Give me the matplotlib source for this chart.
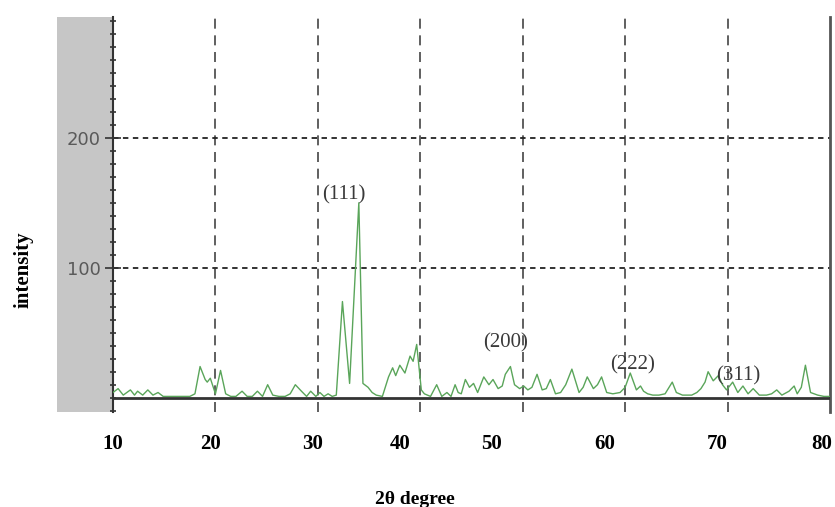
"""XRD pattern: intensity vs 2-theta with (hkl) peak labels."""

import matplotlib
matplotlib.use("Agg")
import matplotlib.pyplot as plt
import matplotlib.patches as mpatches
from matplotlib.ticker import MultipleLocator, FixedLocator

# --- data ---
two_theta = [10.0, 10.5, 11.0, 11.7, 12.1, 12.4, 12.9, 13.4, 13.9, 14.4,
             14.9, 15.5, 16.5, 17.5, 18.0, 18.5, 19.0, 19.2, 19.5, 20.0,
             20.5, 21.0, 21.5, 22.0, 22.6, 23.1, 23.6, 24.1, 24.6, 25.1,
             25.6, 26.2, 26.8, 27.3, 27.8, 28.4, 28.9, 29.3, 29.8, 30.2,
             30.6, 31.0, 31.4, 31.8, 32.4, 33.1, 34.0, 34.4, 34.9, 35.3,
             35.7, 36.3, 36.9, 37.3, 37.6, 38.0, 38.5, 39.0, 39.3, 39.65,
             39.9, 40.1, 40.4, 41.0, 41.6, 42.1, 42.6, 43.0, 43.4, 43.7,
             44.0, 44.4, 44.8, 45.2, 45.6, 46.2, 46.7, 47.1, 47.6, 48.0,
             48.3, 48.8, 49.2, 49.7, 50.1, 50.5, 50.9, 51.4, 51.9, 52.3,
             52.7, 53.2, 53.7, 54.2, 54.8, 55.5, 55.9, 56.3, 56.9, 57.3,
             57.7, 58.2, 58.8, 59.5, 60.0, 60.5, 61.1, 61.5, 61.8, 62.2,
             62.7, 63.3, 63.9, 64.6, 65.0, 65.6, 66.5, 67.0, 67.4, 67.8,
             68.1, 68.6, 69.1, 69.5, 69.9, 70.5, 71.0, 71.5, 72.0, 72.5,
             73.1, 73.8, 74.3, 74.8, 75.3, 76.0, 76.5, 76.8, 77.2, 77.6,
             78.1, 78.8, 79.4, 80.0]
intensity = [4, 7, 2, 6, 2, 5, 2, 6, 2, 4,
             1, 1, 1, 1, 3, 24, 14, 12, 15, 3,
             21, 3, 1, 1, 5, 1, 1, 5, 1, 10,
             2, 1, 1, 3, 10, 5, 1, 5, 1, 4,
             1, 3, 1, 2, 74, 11, 150, 11, 8, 4,
             2, 1, 16, 23, 17, 25, 19, 32, 28, 41,
             22, 6, 3, 1, 10, 1, 4, 1, 10, 4,
             3, 14, 8, 11, 4, 16, 10, 14, 7, 9,
             18, 24, 10, 7, 9, 6, 8, 18, 6, 7,
             14, 3, 4, 10, 22, 4, 8, 16, 7, 10,
             16, 4, 3, 4, 8, 19, 6, 9, 5, 3,
             2, 2, 3, 12, 4, 2, 2, 4, 7, 12,
             20, 13, 17, 10, 6, 12, 4, 9, 3, 7,
             2, 2, 3, 6, 2, 5, 9, 3, 8, 25,
             4, 2, 1, 1]

peak_labels = ["(111)", "(200)", "(222)", "(311)"]
peak_label_x = [32.5, 48.3, 60.7, 71.0]
peak_label_y = [156, 42, 25, 17]

x_tick_labels = ["10", "20", "30", "40", "50", "60", "70", "80"]
# labels in the source sit a little off the grid lines
x_tick_label_pos = [10.0, 19.5, 29.5, 38.0, 47.0, 58.0, 69.0, 79.2]
x_grid = [20, 30, 40, 50, 60, 70]
y_ticks = [100, 200]

fig = plt.figure(figsize=(8.35, 5.07), dpi=100)
ax = fig.add_axes([113 / 835, 95 / 507, 717 / 835, 395 / 507])

# grey strip behind the y tick labels
fig.patches.append(mpatches.Rectangle((57 / 835, 95 / 507), 56 / 835, 395 / 507,
                                      transform=fig.transFigure,
                                      facecolor="#c6c6c6", edgecolor="none",
                                      zorder=-1))

ax.plot(two_theta, intensity, color="#5aa55a", lw=1.0, zorder=3)
ax.axhline(0, color="#333333", lw=2.0, zorder=4)

ax.set_xlim(10, 80)
ax.set_ylim(-11, 293)

# grid
for gx in x_grid:
    ax.axvline(gx, color="#444444", lw=1.2, ls=(0, (6, 4)), zorder=1)
for gy in y_ticks:
    ax.axhline(gy, color="#222222", lw=1.3, ls=(0, (3, 2.5)), zorder=1)

# x tick labels
ax.xaxis.set_major_locator(FixedLocator(x_tick_label_pos))
ax.set_xticklabels(x_tick_labels, fontfamily="Liberation Serif",
                   fontweight="bold", fontsize=15)
ax.tick_params(axis="x", length=0, pad=16)

# y ticks
ax.set_yticks(y_ticks)
ax.set_yticklabels([str(v) for v in y_ticks],
                   fontfamily=["Liberation Sans Narrow", "DejaVu Sans"],
                   fontsize=13, color="#5a5a5a")
ax.yaxis.set_minor_locator(MultipleLocator(10))
ax.tick_params(axis="y", which="major", direction="inout", length=12,
               width=1.2, color="#333333", pad=3)
ax.tick_params(axis="y", which="minor", direction="inout", length=5,
               width=1.2, color="#333333")

for side in ["top", "bottom"]:
    ax.spines[side].set_visible(False)
ax.spines["left"].set_color("#333333")
ax.spines["left"].set_linewidth(1.5)
ax.spines["right"].set_color("#555555")
ax.spines["right"].set_linewidth(2.0)

for lab, lx, ly in zip(peak_labels, peak_label_x, peak_label_y):
    ax.text(lx, ly, lab, ha="center", va="center", fontsize=15,
            fontfamily="Liberation Serif", color="#3a3a3a", zorder=5)

fig.text(24 / 835, 1 - 270 / 507, "intensity", rotation=90,
         ha="center", va="center", fontsize=15, fontweight="bold",
         fontfamily="Liberation Serif")
fig.text(415 / 835, 1 - 499 / 507, "2θ degree", ha="center", va="center",
         fontsize=14, fontweight="bold", fontfamily="Liberation Serif")

fig.savefig("out.png", dpi=100)
plt.close(fig)
